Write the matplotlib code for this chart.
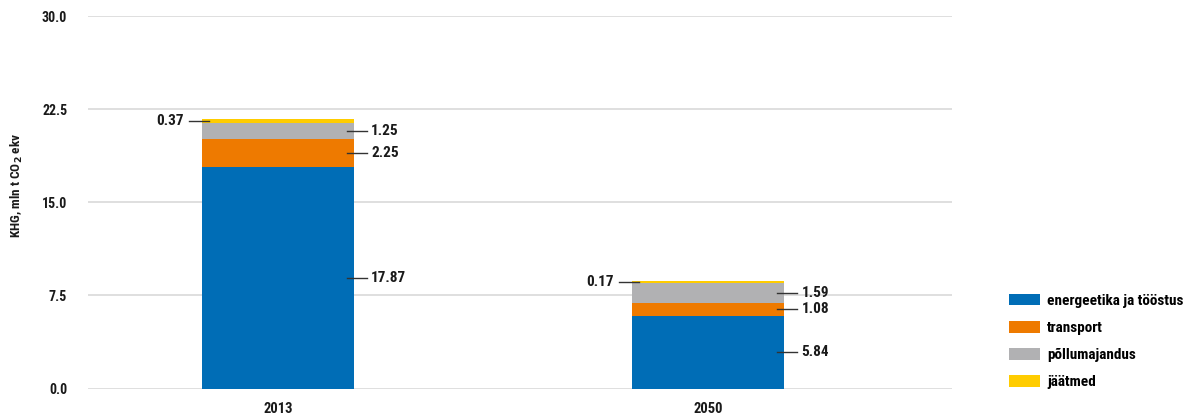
import numpy as np
import matplotlib
matplotlib.use('Agg')
import matplotlib.pyplot as plt

# Andmed
aastad = ['2013', '2050']
sektorid = ['energeetika ja tööstus', 'transport', 'põllumajandus', 'jäätmed']
energeetika = [17.87, 5.84]
transport = [2.25, 1.08]
pollumajandus = [1.25, 1.59]
jaatmed = [0.37, 0.17]
varvid = ['#006DB6', '#EE7A00', '#B1B1B3', '#FFCC00']

plt.rcParams['font.family'] = ['Roboto Condensed', 'Roboto', 'DejaVu Sans']
plt.rcParams['font.weight'] = 'bold'

fig = plt.figure(figsize=(11.87, 4.16), dpi=100)
ax = fig.add_axes([88 / 1187, 1 - 388.5 / 416, 864 / 1187, (388.5 - 16) / 416])

x = np.arange(len(aastad))
laius = 0.3535
seeriad = [energeetika, transport, pollumajandus, jaatmed]

alus = np.zeros(len(aastad))
for vaartused, nimi, varv in zip(seeriad, sektorid, varvid):
    ax.bar(x, vaartused, laius, bottom=alus, color=varv, label=nimi, zorder=2)
    alus += np.array(vaartused)

# Väärtuste sildid juhtjoontega
sisse = 7 / 430
valja = 13 / 430
alus = np.zeros(len(aastad))
for k, vaartused in enumerate(seeriad):
    for i, v in enumerate(vaartused):
        kesk = alus[i] + v / 2
        if k == 3:
            # jäätmed vasakul pool
            xl = x[i] - laius / 2
            ax.plot([xl - valja, xl + sisse], [kesk, kesk], color='#333333', lw=1, zorder=3)
            ax.annotate(f'{v:.2f}', (xl - valja, kesk), xytext=(-4, 0), textcoords='offset points',
                        ha='right', va='center', fontsize=11, fontweight='bold', color='#1a1a1a')
        else:
            xr = x[i] + laius / 2
            ax.plot([xr - sisse, xr + valja], [kesk, kesk], color='#333333', lw=1, zorder=3)
            ax.annotate(f'{v:.2f}', (xr + valja, kesk), xytext=(3, 0), textcoords='offset points',
                        ha='left', va='center', fontsize=11, fontweight='bold', color='#1a1a1a')
    alus += np.array(vaartused)

ax.set_xlim(-0.442, 1.567)
ax.set_ylim(0, 30)
ax.set_yticks([0, 7.5, 15, 22.5, 30])
ax.set_yticklabels(['0.0', '7.5', '15.0', '22.5', '30.0'])
ax.set_xticks(x)
ax.set_xticklabels(aastad)
ax.tick_params(axis='y', length=0, pad=15, labelsize=10, labelcolor='#1a1a1a')
ax.tick_params(axis='x', length=0, pad=10, labelsize=10.5, labelcolor='#1a1a1a')
for lab in ax.get_xticklabels() + ax.get_yticklabels():
    lab.set_fontweight('bold')

ax.grid(axis='y', color='#D9D9D9', lw=1.2, zorder=0)
for s in ax.spines.values():
    s.set_visible(False)

fig.text(17 / 1187, 1 - 185 / 416, 'KHG, mln t CO$_2$ ekv', rotation=90, ha='center', va='center',
         fontsize=9.5, fontweight='bold', color='#1a1a1a')

fig.legend(loc='upper left', bbox_to_anchor=(1009 / 1187, 1 - 294 / 416), frameon=False,
           handlelength=2.03, handleheight=0.78, handletextpad=0.45,
           labelspacing=0.85, borderpad=0, borderaxespad=0, prop={'weight': 'bold', 'size': 11})

fig.savefig('out.png', dpi=100)
